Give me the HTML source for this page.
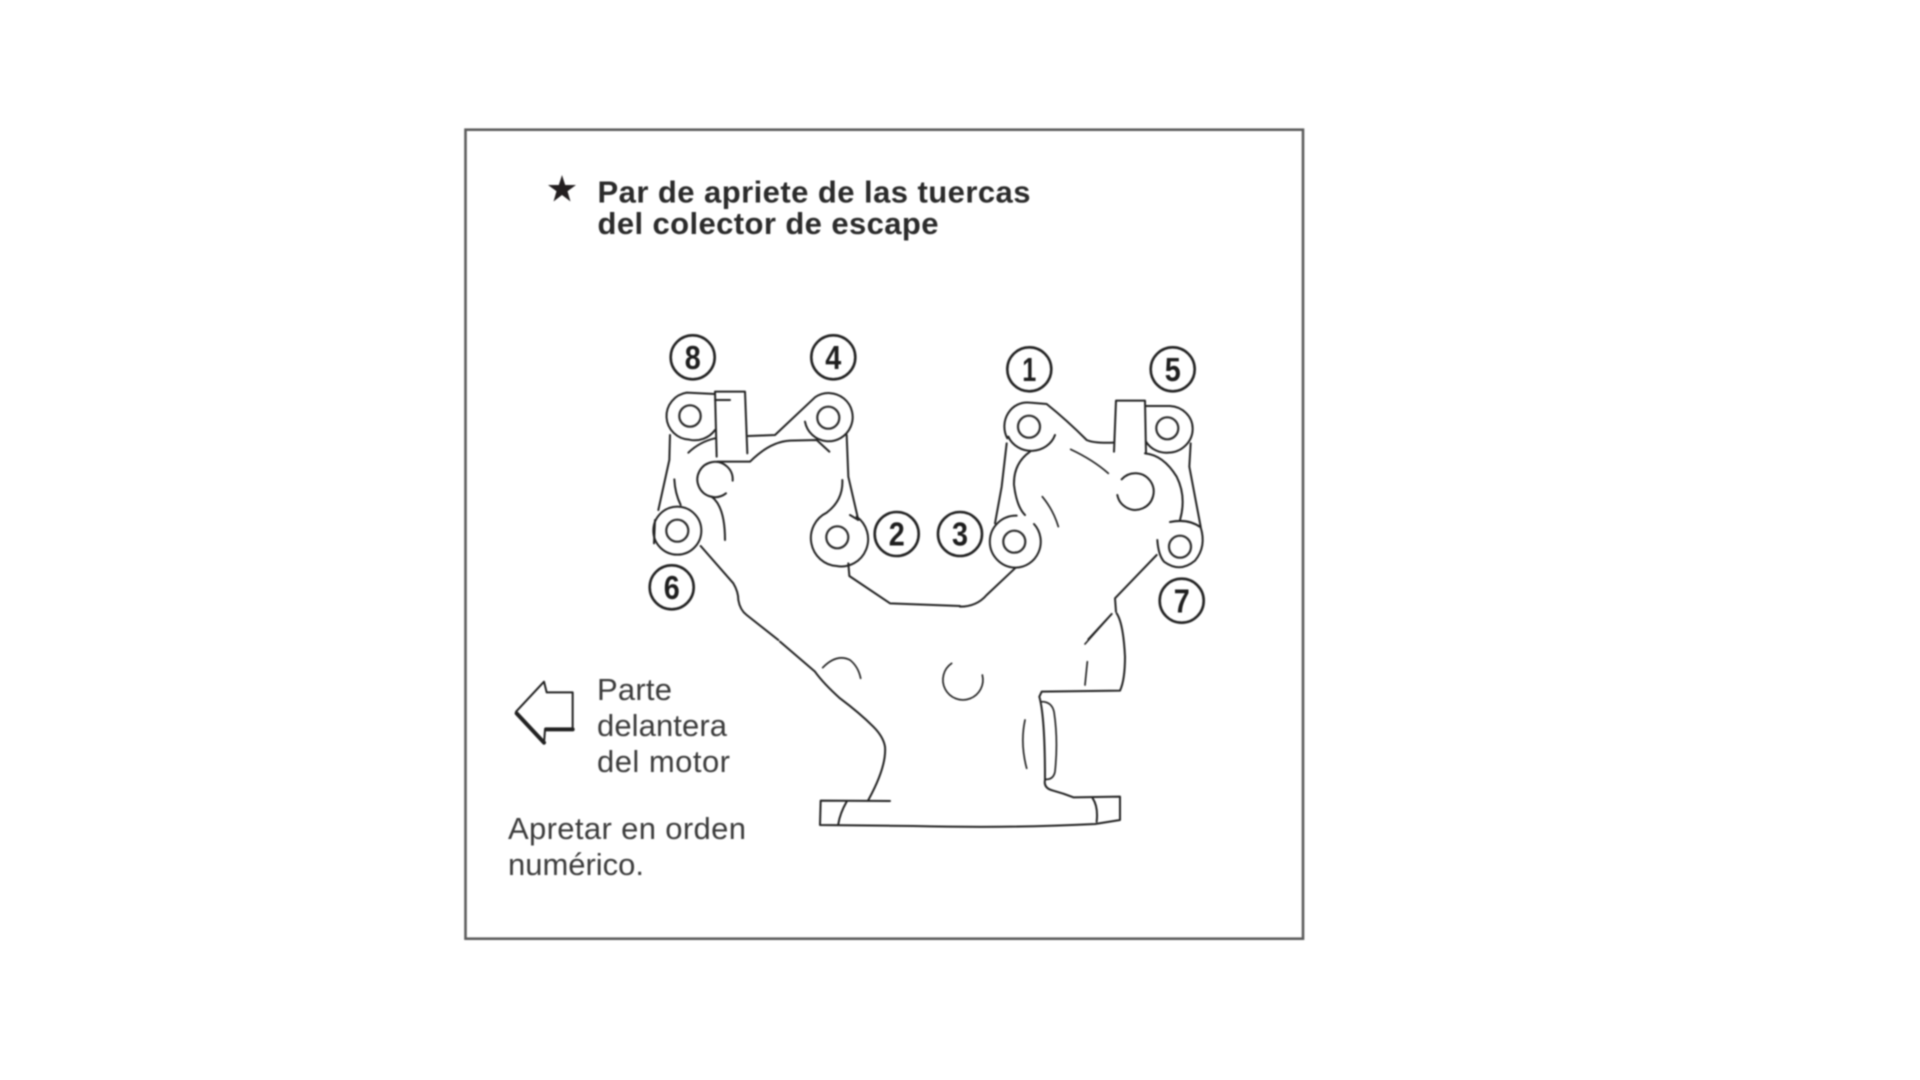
<!DOCTYPE html>
<html lang="es">
<head>
<meta charset="utf-8">
<title>Par de apriete de las tuercas del colector de escape</title>
<style>
html,body{margin:0;padding:0;background:#fff;width:1920px;height:1080px;overflow:hidden}
svg{display:block;filter:blur(.7px)}
text{font-family:"Liberation Sans",sans-serif}
.title{font-weight:700;font-size:31px;fill:#2b2b2b}
.note{font-size:31px;fill:#3c3c3c}
.num{font-weight:700;font-size:33px;fill:#1e1e1e;text-anchor:middle}
.ln{fill:none;stroke:#222;stroke-width:6;stroke-linecap:round;stroke-linejoin:round}
.th{stroke-width:5}
.badge{fill:none;stroke:#222;stroke-width:2.6}
.hole{fill:none;stroke:#2c2c2c;stroke-width:2.2}
</style>
</head>
<body>
<svg width="1920" height="1080" viewBox="0 0 1920 1080" xmlns="http://www.w3.org/2000/svg">
  <rect x="465.5" y="129.7" width="837.5" height="809" fill="#fff" stroke="#5c5c5c" stroke-width="2.6"/>

  <polygon points="562,175 565.2,185 576,185 567.5,191.3 570.5,201.5 562,195 553.5,201.5 556.5,191.3 548,185 558.8,185" fill="#231f20"/>
  <text class="title" x="597.5" y="202.5" textLength="433" lengthAdjust="spacing">Par de apriete de las tuercas</text>
  <text class="title" x="597.5" y="234" textLength="341" lengthAdjust="spacing">del colector de escape</text>

  <g transform="translate(490,660) scale(.33333)">
    <path class="ln" d="M162,65 L78,155 L162,250 L165,210 L248,210 L248,97 L170,97 Z"/>
    <path class="ln" style="stroke-width:12" d="M80,160 L162,248 M168,208 L248,208"/>
  </g>
  <text class="note" x="597" y="700" textLength="75" lengthAdjust="spacing">Parte</text>
  <text class="note" x="597" y="736" textLength="130" lengthAdjust="spacing">delantera</text>
  <text class="note" x="597" y="772" textLength="133" lengthAdjust="spacing">del motor</text>
  <text class="note" x="508" y="839" textLength="238" lengthAdjust="spacing">Apretar en orden</text>
  <text class="note" x="508" y="875" textLength="136" lengthAdjust="spacing">numérico.</text>

  <g transform="translate(640,320) scale(.33333)">
    <path class="ln" d="M225,222 L140,218 A72,71 0 0 0 148,359 A74,72 0 0 0 225,330"/>
    <path class="ln" d="M225,215 L315,215 L322,400 M225,215 L230,410 M225,240 L270,240"/>
    <path class="ln" d="M325,348 L405,345 L525,232 A72,72 0 0 1 632,320 A72,72 0 0 1 495,305"/>
    <path class="ln" d="M90,345 L88,420 L55,570"/>
    <path class="ln" d="M145,398 Q180,365 225,355 M103,478 Q105,520 122,555"/>
    <path class="ln" d="M278,482 A53,53 0 1 0 258,520"/>
    <path class="ln" d="M232,425 L330,425 Q390,365 450,362 L530,360 L568,395"/>
    <path class="ln" d="M215,530 Q255,560 255,660"/>
    <path class="ln" d="M620,345 L625,470 L655,600 M630,585 L655,600"/>
    <path class="ln" d="M607,480 Q610,540 560,578 A82,84 0 0 0 590,738 A80,82 0 0 0 650,590"/>
    <path class="ln" d="M625,730 L628,768 Q690,810 750,850 L960,858"/>
    <path class="ln" d="M182,678 L280,790 Q295,815 295,840 Q300,870 320,885 L415,960"/>
    <circle class="ln" cx="112" cy="632" r="72"/>
    <path class="ln" d="M45,600 L42,670"/>
  </g>

  <g transform="translate(960,320) scale(.33333)">
    <path class="ln" d="M142,355 A68,72 0 0 1 210,248 L260,252 Q320,300 380,360 Q400,370 460,368"/>
    <path class="ln" d="M145,350 A75,70 0 0 0 285,345"/>
    <path class="ln" d="M462,395 L468,242 L555,242 L558,400"/>
    <path class="ln" d="M558,258 L630,258 A72,68 0 0 1 698,325 A75,72 0 0 1 625,398 A72,72 0 0 1 558,365"/>
    <path class="ln" d="M555,400 Q610,405 650,470 Q680,530 660,600"/>
    <path class="ln" d="M630,606 Q685,595 722,622 Q740,680 705,722 Q660,760 612,725 Q595,705 592,660"/>
    <path class="ln" d="M692,370 L688,440 L722,620 M140,370 L125,500 L105,610"/>
    <path class="ln" d="M170,587 A78,78 0 0 0 165,743 A76,78 0 0 0 222,612"/>
    <path class="ln" d="M165,745 L80,825 Q50,860 0,860"/>
    <path class="ln" d="M210,395 Q160,430 162,495 Q170,560 195,585"/>
    <path class="ln th" d="M247,530 Q280,570 295,620 M332,388 Q400,420 445,460"/>
    <path class="ln" d="M485,478 A55,55 0 1 1 472,525"/>
    <path class="ln" d="M590,705 L465,835 L468,875 M455,882 L385,958"/>
  </g>

  <g transform="translate(780,600) scale(.33333)">
    <path class="ln" d="M1010,40 Q1030,70 1035,170 Q1035,240 1020,272 L785,275 L778,290 Q795,350 795,540 Q790,565 820,572 Q850,580 880,592 L1020,590 L1020,660 L945,672 Q700,685 400,678 L120,675 L122,602 L330,603"/>
    <path class="ln" d="M938,595 Q955,620 950,665 M200,605 Q180,640 175,672"/>
    <path class="ln" d="M265,600 Q320,500 315,440 Q310,410 280,380 Q240,340 180,295 Q130,250 105,215 L0,125"/>
    <path class="ln th" d="M128,203 Q170,160 210,180 Q235,200 242,235"/>
    <path class="ln th" d="M515,190 A60,60 0 1 0 607,225"/>
    <path class="ln th" d="M995,42 L915,132 M922,185 L915,255"/>
    <path class="ln th" d="M785,305 Q815,305 822,335 Q835,420 825,515 Q820,540 795,538"/>
    <path class="ln th" d="M735,360 Q720,430 740,505"/>
  </g>

  <g>
    <circle class="hole" cx="690" cy="416" r="10.7"/>
    <circle class="hole" cx="828.3" cy="417.7" r="11"/>
    <circle class="hole" cx="677.3" cy="530.7" r="11"/>
    <circle class="hole" cx="837.3" cy="537.3" r="11"/>
    <circle class="hole" cx="1029" cy="426.7" r="11"/>
    <circle class="hole" cx="1167.3" cy="428.3" r="11"/>
    <circle class="hole" cx="1014.3" cy="541.7" r="11"/>
    <circle class="hole" cx="1180" cy="546.7" r="11"/>
  </g>

  <g>
    <g><circle class="badge" cx="692.7" cy="357.3" r="22"/><text class="num" x="692.7" y="369" textLength="16" lengthAdjust="spacingAndGlyphs">8</text></g>
    <g><circle class="badge" cx="833.3" cy="357.3" r="22"/><text class="num" x="833.3" y="369" textLength="16" lengthAdjust="spacingAndGlyphs">4</text></g>
    <g><circle class="badge" cx="671.7" cy="587.3" r="22"/><text class="num" x="671.7" y="599" textLength="16" lengthAdjust="spacingAndGlyphs">6</text></g>
    <g><circle class="badge" cx="896.7" cy="534" r="22"/><text class="num" x="896.7" y="545.7" textLength="16" lengthAdjust="spacingAndGlyphs">2</text></g>
    <g><circle class="badge" cx="960" cy="534" r="22"/><text class="num" x="960" y="545.7" textLength="16" lengthAdjust="spacingAndGlyphs">3</text></g>
    <g><circle class="badge" cx="1029.3" cy="369.3" r="22"/><text class="num" x="1029.3" y="381" textLength="14" lengthAdjust="spacingAndGlyphs">1</text></g>
    <g><circle class="badge" cx="1172.7" cy="369.3" r="22"/><text class="num" x="1172.7" y="381" textLength="16" lengthAdjust="spacingAndGlyphs">5</text></g>
    <g><circle class="badge" cx="1181.7" cy="600.7" r="22"/><text class="num" x="1181.7" y="612.4" textLength="16" lengthAdjust="spacingAndGlyphs">7</text></g>
  </g>
</svg>
</body>
</html>
